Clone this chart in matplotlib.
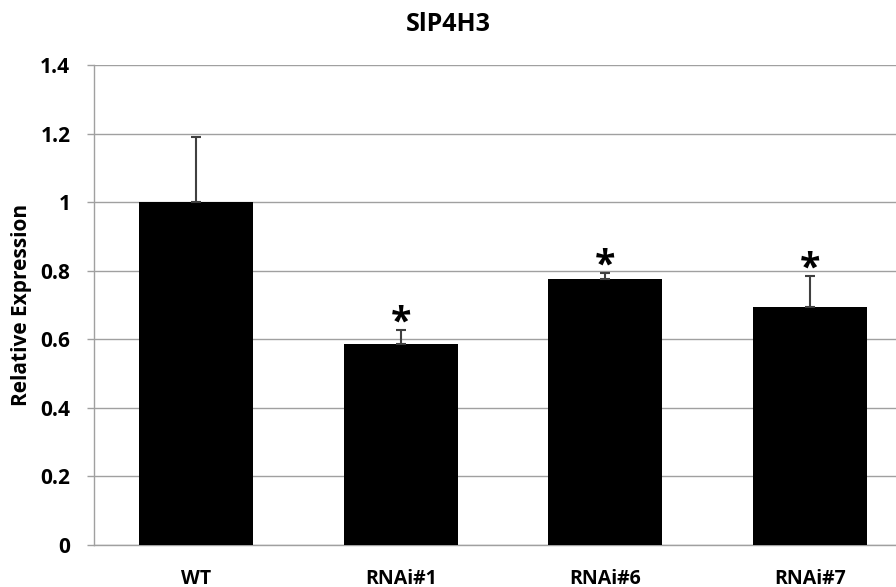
# relative expression of SlP4H3 in WT and RNAi lines

import matplotlib.pyplot as plt
import numpy as np


# data
# ---

lines = ['WT', 'RNAi#1', 'RNAi#6', 'RNAi#7']
expression = [1.0, 0.586, 0.775, 0.693]
err_upper = [0.19, 0.04, 0.018, 0.092]
significant = [False, True, True, True]

ytick_vals = [0, 0.2, 0.4, 0.6, 0.8, 1.0, 1.2, 1.4]
ytick_labels = ['0', '0.2', '0.4', '0.6', '0.8', '1', '1.2', '1.4']


# plot
# ---

plt.rcParams['font.family'] = ['Open Sans', 'DejaVu Sans']
plt.rcParams['font.weight'] = 'bold'

fig = plt.figure(figsize=(8.96, 5.87), dpi=100)
# axes run a little past the right edge of the figure
ax = fig.add_axes([94 / 896, 42 / 587, 818 / 896, 480 / 587])

x = np.arange(len(lines))
ax.bar(x, expression, width=0.557, color='black', zorder=3)
ax.errorbar(x, expression, yerr=[np.zeros(len(x)), err_upper], fmt='none',
            ecolor='#404040', elinewidth=1.5, capsize=3.5, capthick=1.5, zorder=4)

# stars above the significant lines
for xi, val, err, sig in zip(x, expression, err_upper, significant):
    if sig:
        ax.text(xi, val + err - 0.037, '*', ha='center', va='bottom',
                fontsize=27, fontweight='bold', zorder=5)

ax.set_xlim(-0.5, 3.5)
ax.set_ylim(0, 1.4)
ax.set_yticks(ytick_vals)
ax.set_yticklabels(ytick_labels, fontsize=15, fontweight='bold')
ax.set_xticks(x)
ax.set_xticklabels(lines, fontsize=14, fontweight='bold')
ax.tick_params(axis='y', length=5, width=1, color='#a0a0a0', pad=12)
ax.tick_params(axis='x', length=0, pad=17)

ax.grid(axis='y', color='#a0a0a0', linewidth=1, zorder=0)
for side in ['top', 'right']:
    ax.spines[side].set_visible(False)
for side in ['left', 'bottom']:
    ax.spines[side].set_color('#a0a0a0')
    ax.spines[side].set_linewidth(1)

ax.set_ylabel('Relative Expression', fontsize=15, fontweight='bold', labelpad=6)
fig.text(0.5, 0.958, 'SlP4H3', ha='center', va='center', fontsize=18, fontweight='bold')

plt.savefig('out.png', dpi=100)
plt.close()
